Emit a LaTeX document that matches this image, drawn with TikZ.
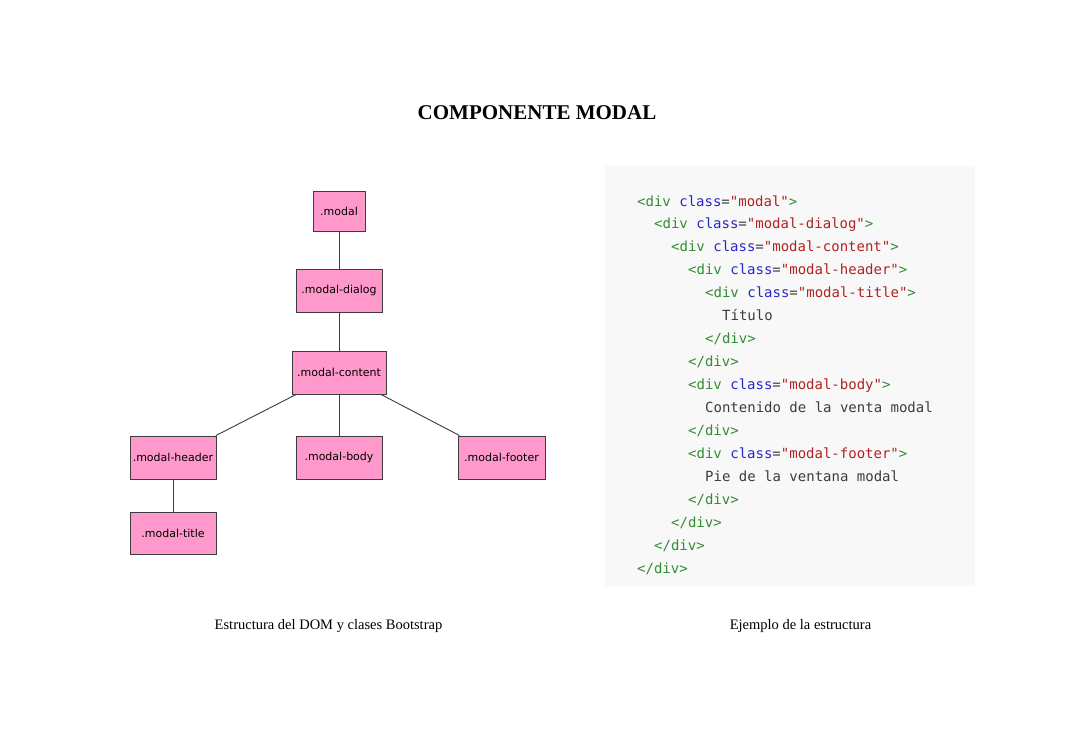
\documentclass[tikz,border=0pt]{standalone}
\usepackage{fontspec}
\setmainfont{Liberation Serif}
\setsansfont{DejaVu Sans}
\setmonofont{DejaVu Sans Mono}
\definecolor{boxfill}{RGB}{255,153,204}
\definecolor{boxline}{RGB}{60,60,60}
\definecolor{codebg}{RGB}{248,248,248}
\definecolor{tagc}{RGB}{50,140,50}
\definecolor{attrc}{RGB}{40,40,200}
\definecolor{strc}{RGB}{178,34,34}
\definecolor{txtc}{RGB}{60,60,60}
\newcommand\Tg[1]{\textcolor{tagc}{#1}}
\newcommand\At[1]{\textcolor{attrc}{#1}}
\newcommand\St[1]{\textcolor{strc}{#1}}
\newcommand\Tx[1]{\textcolor{txtc}{#1}}
\newcommand\Open[1]{\Tg{<div} \At{class}\Tx{=}\St{"#1"}\Tg{>}}
\newcommand\Close{\Tg{</div>}}
\begin{document}
\begin{tikzpicture}[x=1pt,y=-1pt,
  dombox/.style={draw=boxline,fill=boxfill,line width=0.9pt,inner sep=0pt,
    font=\fontsize{11}{13}\sffamily,text=black},
  link/.style={draw=boxline,line width=0.9pt},
  codeline/.style={anchor=base west,inner sep=0pt,font=\fontsize{14}{16}\ttfamily},
  caption/.style={anchor=base,inner sep=0pt,font=\fontsize{14.5}{16}\selectfont}]
\useasboundingbox (0,0) rectangle (1085,739);
\fill[white] (0,0) rectangle (1085,739);
% title
\node[anchor=base,inner sep=0pt,font=\fontsize{21}{24}\bfseries] (title) at (537,119) {COMPONENTE MODAL};
% DOM tree
\node[dombox,minimum width=52pt,minimum height=40pt] (modal) at (339,211) {.modal};
\node[dombox,minimum width=86pt,minimum height=43pt] (dialog) at (339,290.5) {.modal-dialog};
\node[dombox,minimum width=94pt,minimum height=43pt] (content) at (339,372.5) {.modal-content};
\node[dombox,minimum width=86pt,minimum height=43pt] (header) at (173,457.5) {.modal-header};
\node[dombox,minimum width=86pt,minimum height=43pt] (body) at (339,457.5) {.modal-body};
\node[dombox,minimum width=87pt,minimum height=43pt] (footer) at (501.5,457.5) {.modal-footer};
\node[dombox,minimum width=86pt,minimum height=42pt] (mtitle) at (173,533) {.modal-title};
\draw[link] (modal) -- (dialog);
\draw[link] (dialog) -- (content);
\draw[link] (content) -- (header);
\draw[link] (content) -- (body);
\draw[link] (content) -- (footer);
\draw[link] (header) -- (mtitle);
% code block
\fill[codebg] (605,166) rectangle (975,586);
\node[codeline] (c0) at (637,206) {\Open{modal}};
\node[codeline] (c1) at (654,228.94) {\Open{modal-dialog}};
\node[codeline] (c2) at (671,251.88) {\Open{modal-content}};
\node[codeline] (c3) at (688,274.82) {\Open{modal-header}};
\node[codeline] (c4) at (705,297.76) {\Open{modal-title}};
\node[codeline] (c5) at (722,320.7) {\Tx{Título}};
\node[codeline] (c6) at (705,343.64) {\Close};
\node[codeline] (c7) at (688,366.58) {\Close};
\node[codeline] (c8) at (688,389.52) {\Open{modal-body}};
\node[codeline] (c9) at (705,412.46) {\Tx{Contenido de la venta modal}};
\node[codeline] (c10) at (688,435.4) {\Close};
\node[codeline] (c11) at (688,458.34) {\Open{modal-footer}};
\node[codeline] (c12) at (705,481.28) {\Tx{Pie de la ventana modal}};
\node[codeline] (c13) at (688,504.22) {\Close};
\node[codeline] (c14) at (671,527.16) {\Close};
\node[codeline] (c15) at (654,550.1) {\Close};
\node[codeline] (c16) at (637,573.04) {\Close};
% captions
\node[caption] (capl) at (328.5,629) {Estructura del DOM y clases Bootstrap};
\node[caption] (capr) at (800.5,629) {Ejemplo de la estructura};
\end{tikzpicture}
\end{document}
